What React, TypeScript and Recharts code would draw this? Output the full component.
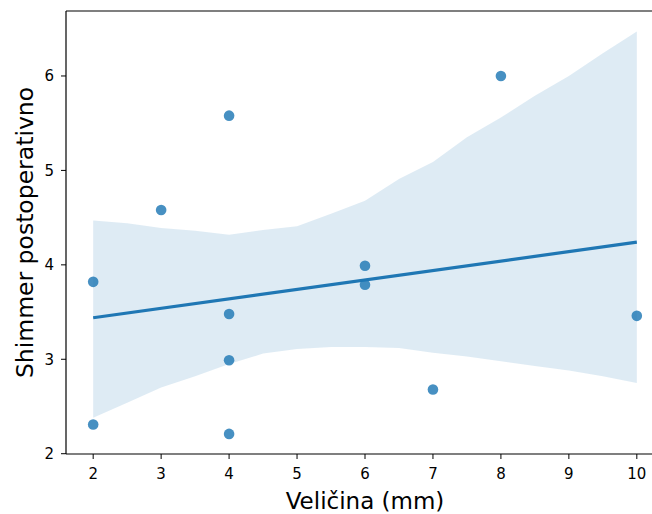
import {
  Area,
  ComposedChart,
  Label,
  Line,
  ReferenceLine,
  Scatter,
  XAxis,
  YAxis,
} from "recharts";

// measured points
const pointX = [2, 2, 3, 4, 4, 4, 4, 6, 6, 7, 8, 10];
const pointY = [3.82, 2.31, 4.58, 5.58, 3.48, 2.99, 2.21, 3.99, 3.79, 2.68, 6.0, 3.46];

// regression line ends
const fitX = [2, 10];
const fitY = [3.44, 4.24];

// confidence band
const bandX = [2, 2.5, 3, 3.5, 4, 4.5, 5, 5.5, 6, 6.5, 7, 7.5, 8, 8.5, 9, 9.5, 10];
const bandLow = [2.38, 2.54, 2.7, 2.82, 2.95, 3.06, 3.11, 3.13, 3.13, 3.12, 3.07, 3.03, 2.98, 2.93, 2.88, 2.82, 2.75];
const bandHigh = [4.47, 4.44, 4.39, 4.36, 4.32, 4.37, 4.41, 4.54, 4.68, 4.91, 5.09, 5.35, 5.56, 5.79, 6.0, 6.24, 6.47];

const xTicks = [2, 3, 4, 5, 6, 7, 8, 9, 10];
const yTicks = [2, 3, 4, 5, 6];

const X_DOMAIN: [number, number] = [1.6, 10.4];
const Y_DOMAIN: [number, number] = [1.997, 6.688];

const BLUE = "#1f77b4";
const FONT = "DejaVu Sans";

const points = pointX.map((x, i) => ({ x, y: pointY[i] }));
const fit = fitX.map((x, i) => ({ x, y: fitY[i] }));
const band = bandX.map((x, i) => ({ x, range: [bandLow[i], bandHigh[i]] }));

const tickStyle = { fontSize: 15, fill: "#000", fontFamily: FONT };

export default function App() {
  return (
    <div
      style={{
        position: "absolute",
        left: 0,
        top: 0,
        width: 652,
        height: 514,
        overflow: "hidden",
        background: "#fff",
        fontFamily: FONT,
      }}
    >
      <ComposedChart
        width={700}
        height={514}
        margin={{ top: 11, right: 36, left: 0, bottom: 0 }}
      >
        <XAxis
          type="number"
          dataKey="x"
          domain={X_DOMAIN}
          ticks={xTicks}
          allowDataOverflow
          height={60}
          tickSize={5}
          tickMargin={9}
          tick={tickStyle}
          axisLine={{ stroke: "#000", strokeWidth: 1.2 }}
          tickLine={{ stroke: "#000" }}
        >
          <Label
            value="Veličina (mm)"
            position="insideBottom"
            offset={5}
            style={{ fontSize: 23, fill: "#000", fontFamily: FONT }}
          />
        </XAxis>
        <YAxis
          type="number"
          dataKey="y"
          domain={Y_DOMAIN}
          ticks={yTicks}
          allowDataOverflow
          width={66}
          tickSize={5}
          tickMargin={7}
          tick={tickStyle}
          axisLine={{ stroke: "#000", strokeWidth: 1.2 }}
          tickLine={{ stroke: "#000" }}
        >
          <Label
            content={({ viewBox }: any) => {
              const cx = 33;
              const cy = viewBox.y + viewBox.height / 2;
              return (
                <text
                  x={cx}
                  y={cy}
                  transform={`rotate(-90 ${cx} ${cy})`}
                  textAnchor="middle"
                  fontSize={23.5}
                  fill="#000"
                  fontFamily={FONT}
                >
                  Shimmer postoperativno
                </text>
              );
            }}
          />
        </YAxis>
        <ReferenceLine y={Y_DOMAIN[1]} stroke="#000" strokeWidth={1.2} ifOverflow="visible" />
        <Scatter
          data={points}
          isAnimationActive={false}
          shape={(p: any) => (
            <circle cx={p.cx} cy={p.cy} r={5.3} fill={BLUE} fillOpacity={0.82} />
          )}
        />
        <Area
          data={band}
          dataKey="range"
          type="linear"
          stroke="none"
          fill={BLUE}
          fillOpacity={0.15}
          isAnimationActive={false}
          dot={false}
          activeDot={false}
        />
        <Line
          data={fit}
          dataKey="y"
          type="linear"
          stroke={BLUE}
          strokeWidth={3.2}
          dot={false}
          activeDot={false}
          isAnimationActive={false}
        />
      </ComposedChart>
    </div>
  );
}
